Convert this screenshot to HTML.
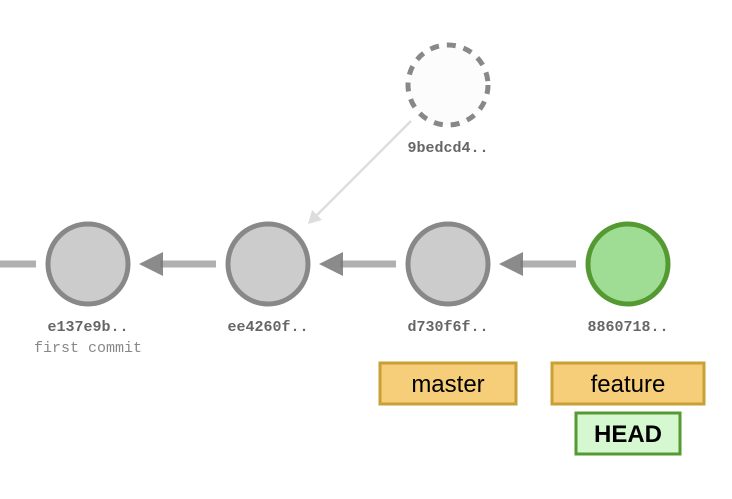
<!DOCTYPE html>
<html><head><style>body{margin:0;background:#fff}</style></head><body>
<svg width="732" height="494" xmlns="http://www.w3.org/2000/svg" font-family="Liberation Mono, monospace">
<line x1="0" y1="264" x2="36" y2="264" stroke="#b0b0b0" stroke-width="7"/>
<g stroke="#b0b0b0" stroke-width="7">
<line x1="160" y1="264" x2="216" y2="264"/>
<line x1="340" y1="264" x2="396" y2="264"/>
<line x1="520" y1="264" x2="576" y2="264"/>
</g>
<g fill="#777" fill-opacity="0.85">
<polygon points="139,264 163,252 163,276"/>
<polygon points="319,264 343,252 343,276"/>
<polygon points="499,264 523,252 523,276"/>
</g>
<line x1="411" y1="121" x2="314" y2="218" stroke="#ddd" stroke-width="2.5"/>
<polygon points="308,224 312,210 322,220" fill="#ddd"/>
<circle cx="448" cy="85" r="40" fill="#fcfcfc" stroke="#888" stroke-width="5" stroke-dasharray="9,8"/>
<g stroke="#888" stroke-width="5" fill="#ccc">
<circle cx="88" cy="264" r="40"/>
<circle cx="268" cy="264" r="40"/>
<circle cx="448" cy="264" r="40"/>
</g>
<circle cx="628" cy="264" r="40" fill="#a0dd94" stroke="#559933" stroke-width="5"/>
<g fill="#666" font-weight="bold" font-size="15" text-anchor="middle">
<text x="448" y="152">9bedcd4..</text>
<text x="88" y="331">e137e9b..</text>
<text x="268" y="331">ee4260f..</text>
<text x="448" y="331">d730f6f..</text>
<text x="628" y="331">8860718..</text>
</g>
<text x="88" y="352" fill="#888" font-size="15" text-anchor="middle">first commit</text>
<rect x="380" y="363" width="136" height="41" fill="#f6cd78" stroke="#c8a035" stroke-width="3"/>
<rect x="552" y="363" width="152" height="41" fill="#f6cd78" stroke="#c8a035" stroke-width="3"/>
<rect x="576" y="413" width="104" height="41" fill="#d6f8d0" stroke="#559933" stroke-width="3"/>
<g font-family="Liberation Sans, sans-serif" font-size="24" text-anchor="middle" fill="#000">
<text x="448" y="392">master</text>
<text x="628" y="392">feature</text>
<text x="628" y="442" font-weight="bold">HEAD</text>
</g>
</svg>
</body></html>
